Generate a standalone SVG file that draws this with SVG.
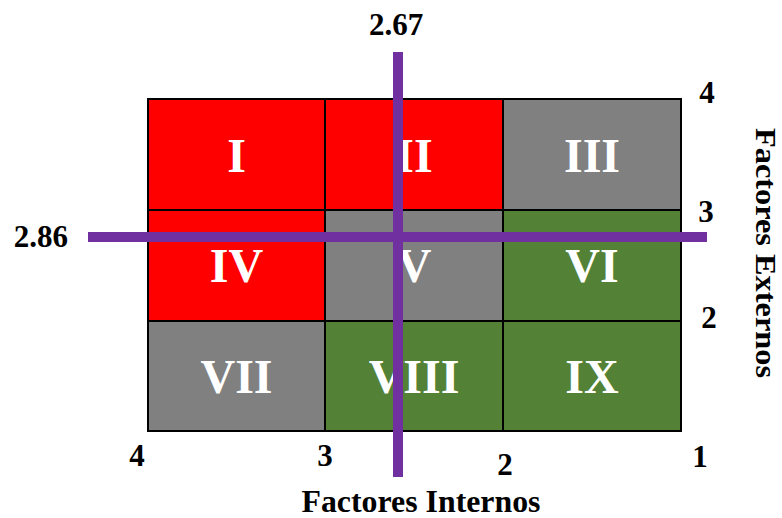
<svg xmlns="http://www.w3.org/2000/svg" width="782" height="518" viewBox="0 0 782 518">
  <style>
    .cell { stroke: #000; stroke-width: 2; }
    .red { fill: #FF0000; }
    .gray { fill: #808080; }
    .green { fill: #538135; }
    .rn { font-family: "Liberation Serif", "Times New Roman", serif; font-weight: bold; font-size: 48px; fill: #fff; text-anchor: middle; }
    .ax { font-family: "Liberation Serif", "Times New Roman", serif; font-weight: bold; font-size: 31px; fill: #000; text-anchor: middle; }
    .cut { stroke: #7030A0; stroke-width: 10; fill: none; }
  </style>
  <rect x="0" y="0" width="782" height="518" fill="#fff"/>
  <g id="cell-I"><rect class="cell red" x="148" y="99" width="177" height="111"/><text class="rn" x="236.5" y="172">I</text></g>
  <g id="cell-II"><rect class="cell red" x="325" y="99" width="178" height="111"/><text class="rn" x="414" y="172">II</text></g>
  <g id="cell-III"><rect class="cell gray" x="503" y="99" width="178" height="111"/><text class="rn" x="592" y="172">III</text></g>
  <g id="cell-IV"><rect class="cell red" x="148" y="210" width="177" height="111"/><text class="rn" x="236.5" y="282">IV</text></g>
  <g id="cell-V"><rect class="cell gray" x="325" y="210" width="178" height="111"/><text class="rn" x="414" y="282">V</text></g>
  <g id="cell-VI"><rect class="cell green" x="503" y="210" width="178" height="111"/><text class="rn" x="592" y="282">VI</text></g>
  <g id="cell-VII"><rect class="cell gray" x="148" y="321" width="177" height="110"/><text class="rn" x="236.5" y="393">VII</text></g>
  <g id="cell-VIII"><rect class="cell green" x="325" y="321" width="178" height="110"/><text class="rn" x="414" y="393">VIII</text></g>
  <g id="cell-IX"><rect class="cell green" x="503" y="321" width="178" height="110"/><text class="rn" x="592" y="393">IX</text></g>
  <g id="axis-labels">
    <text class="ax" x="707" y="103">4</text>
    <text class="ax" x="706" y="222">3</text>
    <text class="ax" x="709" y="328">2</text>
    <text class="ax" x="137" y="466">4</text>
    <text class="ax" x="325" y="466">3</text>
    <text class="ax" x="505" y="475">2</text>
    <text class="ax" x="700" y="467">1</text>
    <text class="ax" x="396" y="35">2.67</text>
    <text class="ax" x="68" y="247" style="text-anchor:end">2.86</text>
    <text class="ax" x="421" y="512" textLength="239" lengthAdjust="spacingAndGlyphs">Factores Internos</text>
    <text class="ax" style="font-size:29px" transform="translate(756,253) rotate(90)" x="0" y="0" textLength="250" lengthAdjust="spacingAndGlyphs">Factores  Externos</text>
  </g>
  <g id="connectors">
    <line class="cut" x1="398" y1="52" x2="398" y2="477"/>
    <line class="cut" x1="88" y1="237" x2="707" y2="237"/>
  </g>
</svg>
